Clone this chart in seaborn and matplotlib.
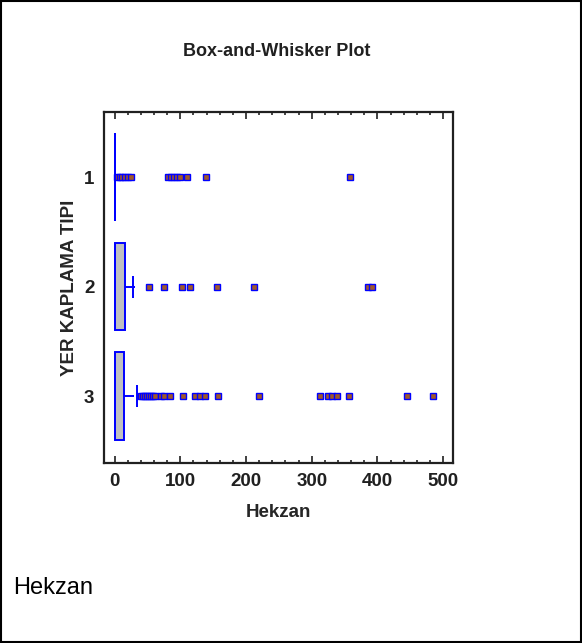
import numpy as np
import pandas as pd
import matplotlib
matplotlib.use("Agg")
import matplotlib.pyplot as plt
import seaborn as sns
from matplotlib.patches import Rectangle
from matplotlib.ticker import MultipleLocator

# 資料：每組的數值與出現次數（由圖讀取，估計值）
groups = ["1", "2", "3"]

g1_values = [0, 4, 8, 12, 16, 20, 25, 82, 86, 90, 95, 100, 110, 139, 358]
g1_counts = [80, 1, 1, 1, 1, 1, 1, 1, 1, 1, 1, 1, 1, 1, 1]

g2_values = [0, 4, 8, 12, 16, 20, 25, 31, 53, 76, 103, 115, 156, 212, 386, 392]
g2_counts = [38, 5, 5, 5, 8, 3, 2, 1, 1, 1, 1, 1, 1, 1, 1, 1]

g3_values = [0, 3, 6, 9, 12, 15, 20, 25, 30,
             40, 43, 46, 49, 52, 55, 58, 62, 70, 76, 84, 104, 123, 130, 137,
             158, 220, 313, 325, 331, 338, 357, 445, 485]
g3_counts = [74, 6, 6, 6, 6, 12, 6, 4, 2] + [1] * 24

# 平均值（"+" 標記）
mean_vals = [1, 28, 34]

x_name = "Hekzan"
y_name = "YER KAPLAMA TIPI"

rows = []
for g, vals, cnts in zip(groups, [g1_values, g2_values, g3_values],
                         [g1_counts, g2_counts, g3_counts]):
    for v, c in zip(vals, cnts):
        rows += [(g, v)] * c
df = pd.DataFrame(rows, columns=[y_name, x_name])

sns.set_theme(style="white")
plt.rcParams['font.family'] = ['Liberation Sans', 'DejaVu Sans']

fig = plt.figure(figsize=(5.82, 6.43), dpi=100)
ax = fig.add_axes([0.1787, 0.2799, 0.5997, 0.5459])

blue = "#0000ff"
sns.boxplot(data=df, x=x_name, y=y_name, order=groups, orient="h",
            width=0.8, color="#c0c0c0", saturation=1, linecolor=blue,
            linewidth=1.4, showcaps=False,
            flierprops=dict(marker="s", markerfacecolor="#a0582a",
                            markeredgecolor=blue, markersize=4.2,
                            markeredgewidth=1.0),
            ax=ax)

# 平均值標記
sns.pointplot(x=mean_vals, y=groups, order=groups, orient="h",
              linestyle="none", marker="|", markersize=16,
              markeredgewidth=1.4, color=blue, errorbar=None, ax=ax)

ax.set_xlim(-16, 515)
ax.set_ylim(2.61, -0.594)

ax.xaxis.set_major_locator(MultipleLocator(100))
ax.xaxis.set_minor_locator(MultipleLocator(20))
ax.tick_params(axis="x", which="major", direction="in", length=5, width=1.2,
               top=True, bottom=True, pad=7, labelsize=13.5, colors="#202020")
ax.tick_params(axis="x", which="minor", direction="in", length=2.5, width=1.2,
               top=True, bottom=True)
ax.tick_params(axis="y", length=0, pad=7, labelsize=13.5, colors="#202020")
for lab in ax.get_xticklabels() + ax.get_yticklabels():
    lab.set_fontweight("bold")

for sp in ax.spines.values():
    sp.set_visible(True)
    sp.set_color("#202020")
    sp.set_linewidth(1.6)

ax.set_xlabel(x_name, fontsize=13.5, fontweight="bold", labelpad=10)
ax.set_ylabel(y_name, fontsize=13.5, fontweight="bold", labelpad=4)

fig.text(277 / 582, 1 - 52 / 643, "Box-and-Whisker Plot", ha="center",
         va="center", fontsize=13, fontweight="bold", color="#202020")
fig.text(13 / 582, 1 - 588 / 643, "Hekzan", ha="left", va="center",
         fontsize=17, color="black")

fig.patches.append(Rectangle((0.002, 0.002), 0.996, 0.996,
                             transform=fig.transFigure, fill=False,
                             edgecolor="black", linewidth=1.5))

fig.savefig("out.png", dpi=100)
plt.close(fig)
